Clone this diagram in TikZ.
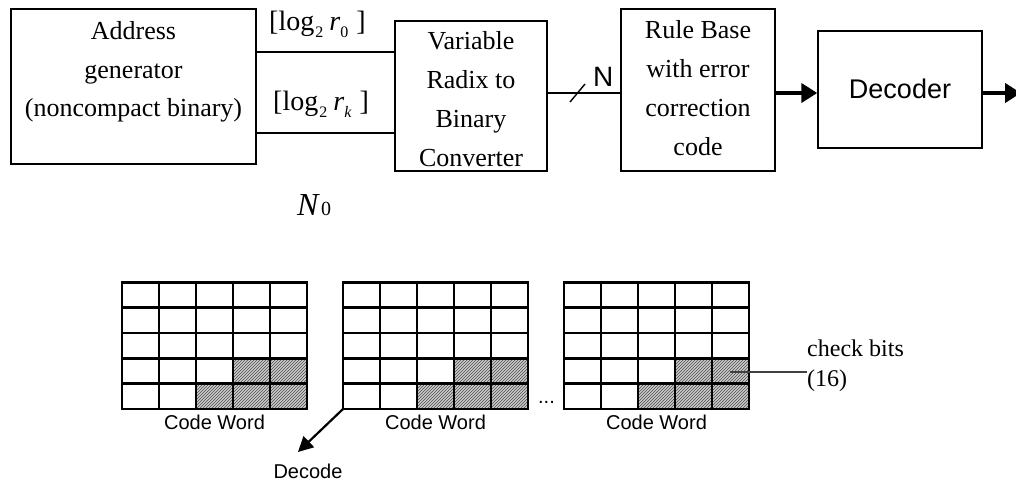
\documentclass[tikz,border=0pt]{standalone}
\usepackage{fontspec}
\setmainfont{Liberation Serif}
\newfontfamily\arial{Liberation Sans}
\usetikzlibrary{arrows.meta,patterns}

% subscript helper for the bit-width labels
\newcommand\subsz[1]{\raisebox{-7pt}{\fontsize{16}{16}\selectfont #1}}

\begin{document}
\begin{tikzpicture}[x=1pt,y=-1pt,
  blk/.style={draw,line width=1.4pt,inner sep=0pt},
  sertext/.style={font=\fontsize{26}{38.7}\selectfont,align=center,inner sep=0pt},
  sanstext/.style={font=\arial\fontsize{27}{30}\selectfont,inner sep=0pt},
  wire/.style={line width=1.4pt},
  boldarrow/.style={line width=4pt,-{Triangle[length=16pt,width=19pt]}},
  decarrow/.style={line width=2.2pt,-{Triangle[length=15pt,width=15pt]}},
  cellline/.style={line width=2.5pt,line cap=rect},
  hatchbg/.style={fill=gray!40},
  hatch/.style={pattern=north east lines,pattern color=gray!60!black},
  cwlabel/.style={font=\arial\fontsize{20}{20}\selectfont,inner sep=0pt,anchor=base},
]
\useasboundingbox (0,0) rectangle (1016,482);

% ---------- block chain ----------
\node[blk,minimum width=245pt,minimum height=155pt] (addr) at (133.5,86.5) {};
\node[sertext] (addrtxt) at (133.5,71.9) {Address\\generator\\(noncompact binary)};

\node[blk,minimum width=152pt,minimum height=150pt] (var) at (471,96) {};
\node[sertext] (vartxt) at (471,99.1) {Variable\\Radix to\\Binary\\Converter};

\node[blk,minimum width=154pt,minimum height=162pt] (rule) at (698,90) {};
\node[sertext] (ruletxt) at (698,88.1) {Rule Base\\with error\\correction\\code};

\node[blk,minimum width=164pt,minimum height=117pt] (dec) at (900,89.5) {};
\node[sanstext,anchor=base] (dectxt) at (900,98) {Decoder};

% digit-field wires between the address generator and the converter
\coordinate (wtop) at (0,52);
\coordinate (wbot) at (0,133);
\draw[wire] (addr.east |- wtop) -- (var.west |- wtop);
\draw[wire] (addr.east |- wbot) -- (var.west |- wbot);
\node[font=\fontsize{28}{28}\selectfont,inner sep=0pt,anchor=base west] (lr0) at (269,30)
  {[log\hspace{1pt}\subsz{2}\hspace{6pt}\textit{r}\subsz{0}\hspace{8pt}]};
\node[font=\fontsize{28}{28}\selectfont,inner sep=0pt,anchor=base west] (lrk) at (273,110)
  {[log\hspace{1pt}\subsz{2}\hspace{6pt}\textit{r}\subsz{\textit{k}}\hspace{8pt}]};
\node[inner sep=0pt,anchor=base west] (n0) at (297,215)
  {\fontsize{32}{32}\selectfont\textit{N}\hspace{1pt}{\fontsize{20}{20}\selectfont 0}};

% N-bit bus into the rule base
\coordinate (bus) at (0,93);
\draw[wire] (var.east |- bus) -- (rule.west |- bus);
\coordinate (slash) at (577.5,93);
\draw[wire] ([shift={(-7.5,9)}]slash) -- ([shift={(7.5,-9)}]slash);
\node[font=\arial\fontsize{28}{28}\selectfont,inner sep=0pt,anchor=base west] (nbus) at (593,86) {N};

\draw[boldarrow] (rule.east |- bus) -- (dec.west |- bus);
\coordinate (out) at (1021,93);
\draw[boldarrow] (dec.east |- bus) -- (out);

% ---------- stored code words ----------
\foreach \g/\gx in {1/122,2/343,3/564}{
  \begin{scope}[shift={(\gx,282.3)},x=37pt,y=-25.34pt]
    \fill[hatchbg] (3,3) rectangle (5,4);
    \fill[hatchbg] (2,4) rectangle (5,5);
    \fill[hatch] (3,3) rectangle (5,4);
    \fill[hatch] (2,4) rectangle (5,5);
    \foreach \i in {0,...,5}{
      \draw[cellline] (\i,0) -- (\i,5);
      \draw[cellline] (0,\i) -- (5,\i);
    }
  \end{scope}
  \node[cwlabel] (cw\g) at (\gx+92.5,429) {Code Word};
}
\node[cwlabel] (dots) at (546.5,403) {...};

% decode output of the second word
\coordinate (w2corner) at (343,409);
\coordinate (decend) at (298,452);
\draw[decarrow] (w2corner) -- (decend);
\node[cwlabel] (decode) at (308,478) {Decode};

% check-bit annotation
\node[font=\fontsize{24}{30}\selectfont,align=left,inner sep=0pt,anchor=base west] (cbtxt) at (807,356) {check bits};
\node[font=\fontsize{24}{30}\selectfont,inner sep=0pt,anchor=base west] (cbnum) at (807,386) {(16)};
\coordinate (cbcell) at (730,372);
\draw[line width=1.3pt,black!75] (cbcell) -- (cbcell -| cbnum.west);
\end{tikzpicture}
\end{document}
